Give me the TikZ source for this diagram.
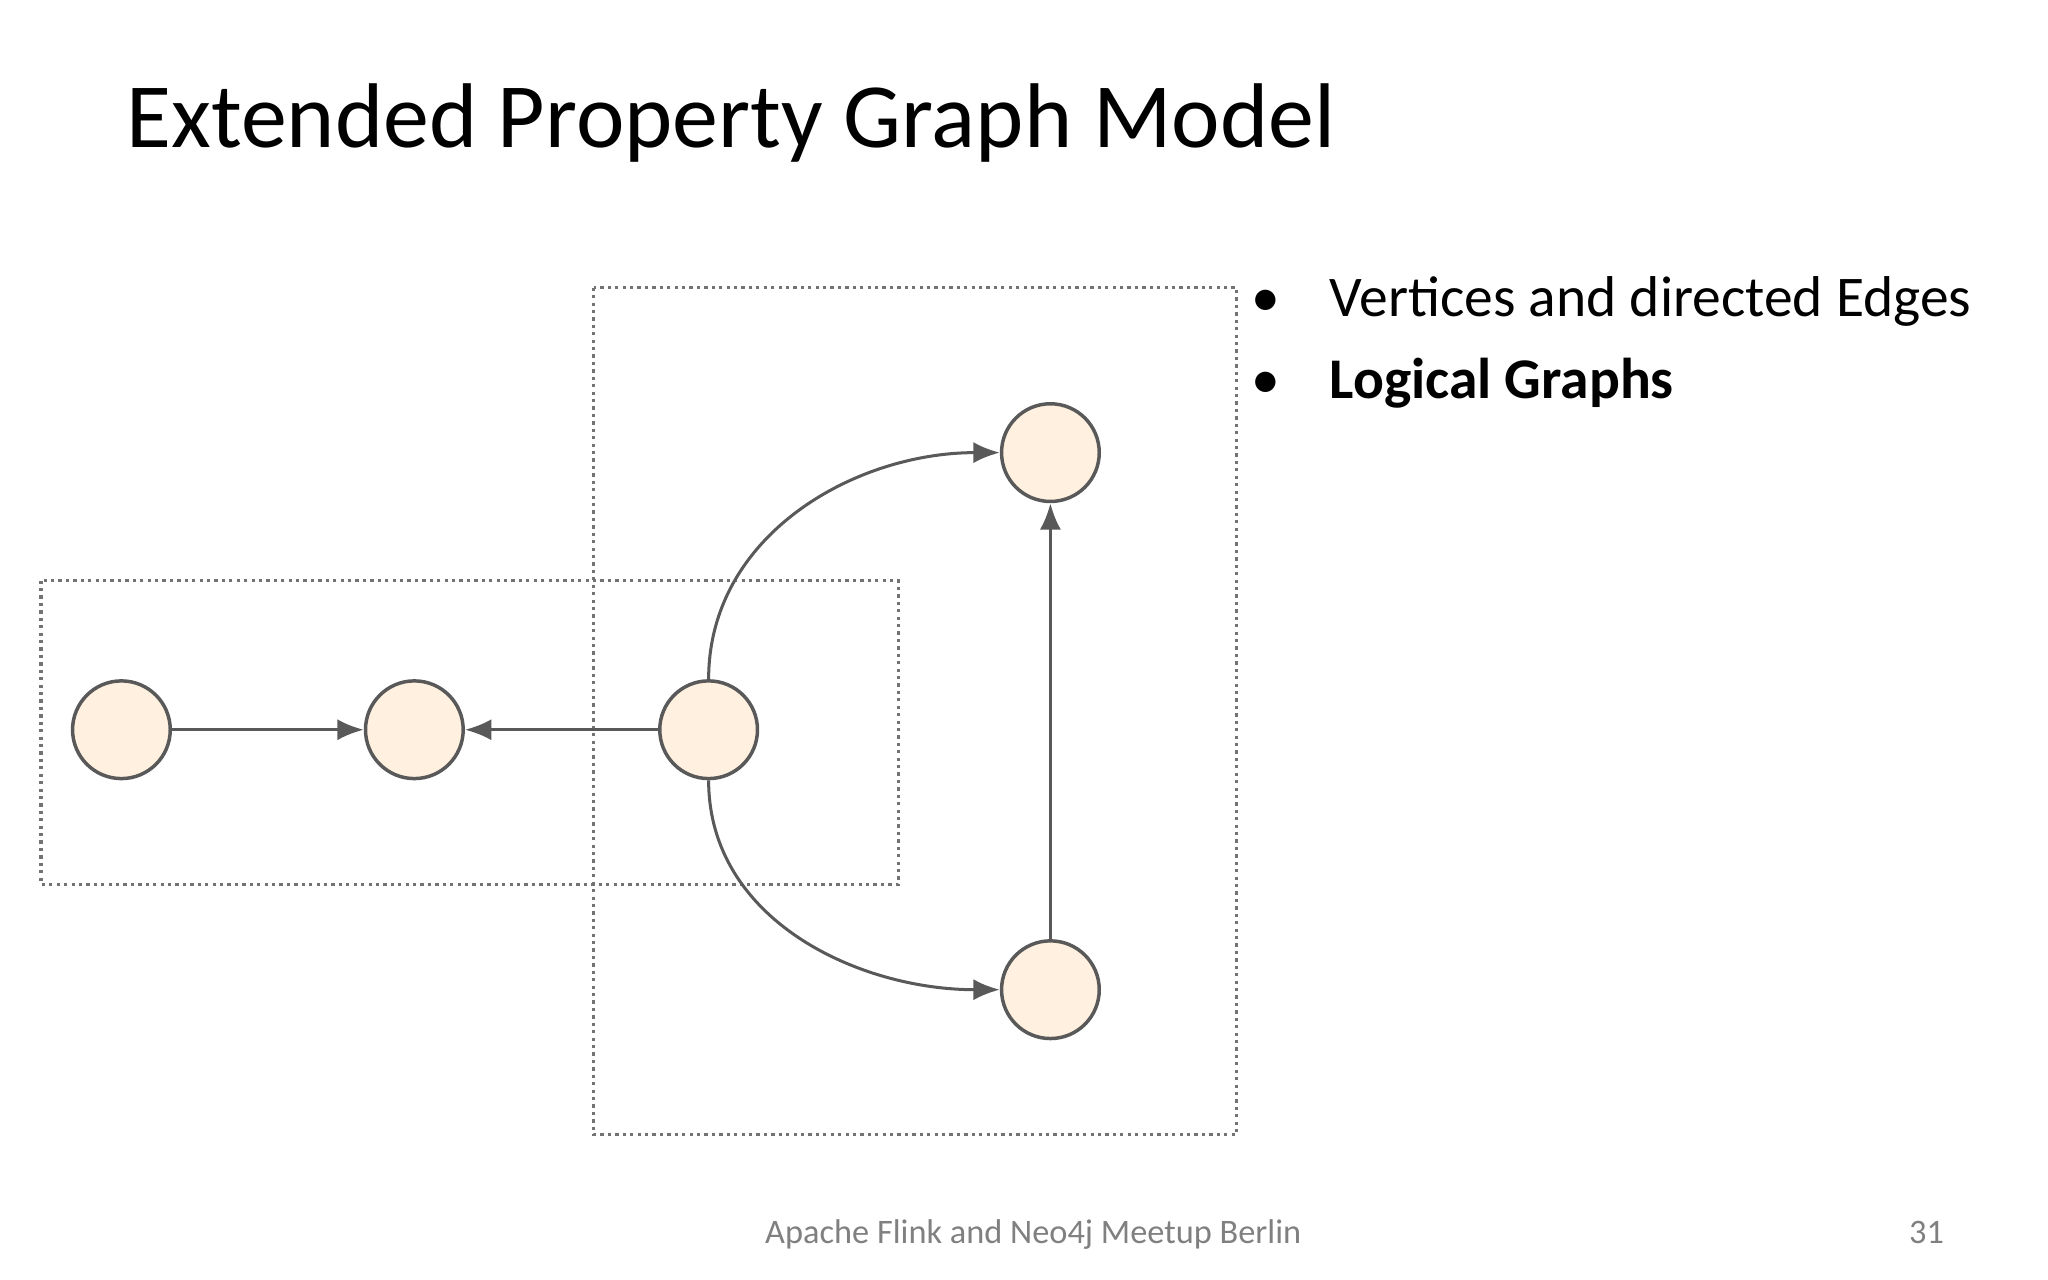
\documentclass[tikz,border=0pt]{standalone}
\usepackage{fontspec}
\setmainfont{Carlito}
\usetikzlibrary{arrows.meta}
\begin{document}
\begin{tikzpicture}[x=0.01cm,y=-0.01cm,
  vert/.style={circle,draw=black!65,line width=0.75pt,fill=orange!12,minimum size=0.74cm,inner sep=0},
  edge/.style={draw=black!65,line width=0.65pt,-{Latex[length=2mm,width=1.6mm]}},
  lg/.style={draw=black!55,line width=0.7pt,dash pattern=on 0.7pt off 0.9pt}]
\useasboundingbox (0,0) rectangle (1552,970);
\node[anchor=base west,inner sep=0,font=\fontsize{19.8}{24}\selectfont] (title) at (95,112) {Extended Property Graph Model};
\draw[lg] (31,440) rectangle (681,670);
\draw[lg] (450,218) rectangle (937,860);
\node[vert] (a) at (92,553) {};
\node[vert] (b) at (314,553) {};
\node[vert] (c) at (537,553) {};
\node[vert] (d) at (796,343) {};
\node[vert] (e) at (796,750) {};
\draw[edge] (a) -- (b);
\draw[edge] (c) -- (b);
\draw[edge] (e) -- (d);
\draw[edge] (c.north) to[out=90,in=180] (d.west);
\draw[edge] (c.south) to[out=-90,in=180] (e.west);
\node[anchor=base west,inner sep=0,font=\fontsize{12.4}{14}\selectfont] (b1) at (948,240) {•};
\node[anchor=base west,inner sep=0,font=\fontsize{12.4}{14}\selectfont] (t1) at (1007,240) {Vertices and directed Edges};
\node[anchor=base west,inner sep=0,font=\fontsize{12.4}{14}\selectfont] (b2) at (948,302) {•};
\node[anchor=base west,inner sep=0,font=\fontsize{12.4}{14}\selectfont\bfseries] (t2) at (1007,302) {Logical Graphs};
\node[anchor=base,font=\fontsize{7.4}{8}\selectfont,text=black!50] (f) at (783,942) {Apache Flink and Neo4j Meetup Berlin};
\node[anchor=base,font=\fontsize{7.4}{8}\selectfont,text=black!50] (p) at (1460,942) {31};
\end{tikzpicture}
\end{document}
